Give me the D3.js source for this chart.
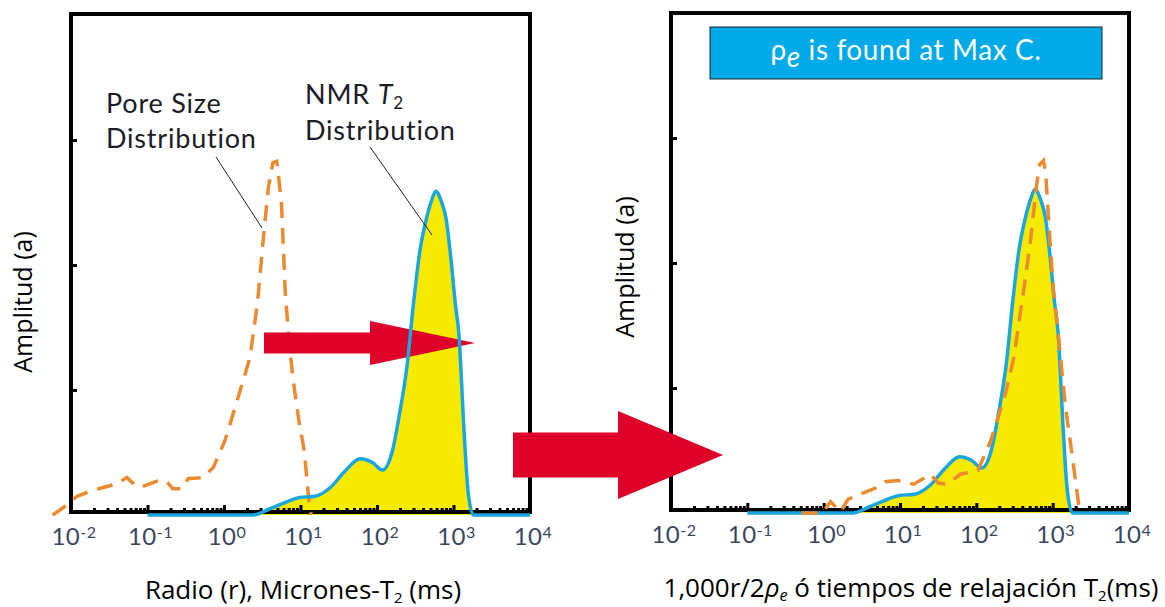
<!DOCTYPE html>
<html>
<head>
<meta charset="utf-8">
<script src="https://cdn.jsdelivr.net/npm/d3@7"></script>
<style>
  body { margin: 0; background: #fff; }
</style>
</head>
<body>
<div id="chart"></div>
<script>
// NMR T2 distribution: log10(T2 ms) and amplitude (same curve in both panels)
var t2Log = [-1, 0.38, 0.6, 0.8, 0.99, 1.19, 1.39, 1.58, 1.78, 1.94, 2.07, 2.2, 2.3, 2.39, 2.48, 2.56, 2.65, 2.71, 2.77, 2.84, 2.9, 2.97, 3.02, 3.07, 3.14, 3.19, 3.26, 4];
var t2Amp = [0, 0, 0.05, 0.1, 0.14, 0.15, 0.22, 0.35, 0.45, 0.42, 0.36, 0.51, 0.83, 1.18, 1.71, 2.11, 2.38, 2.51, 2.59, 2.51, 2.38, 2.03, 1.71, 1.45, 0.65, 0.19, 0, 0];

// pore size distribution, left panel: log10(r microns) and amplitude
var poreLog = [-2.24, -2.1, -1.92, -1.75, -1.58, -1.4, -1.27, -1.2, -1.1, -0.88, -0.75, -0.67, -0.55, -0.47, -0.28, -0.14, 0.01, 0.17, 0.34, 0.44, 0.52, 0.58, 0.64, 0.69, 0.75, 0.8, 0.85, 0.9, 0.98, 1.05, 1.11, 1.14];
var poreAmp = [0, 0.06, 0.15, 0.19, 0.22, 0.25, 0.3, 0.26, 0.22, 0.27, 0.27, 0.21, 0.21, 0.29, 0.3, 0.38, 0.59, 0.91, 1.26, 1.71, 2.25, 2.62, 2.82, 2.83, 2.51, 1.79, 1.39, 1.1, 0.75, 0.51, 0.11, 0];

// pore size distribution scaled by 1000/2rho_e, right panel
var scaledLog = [-0.29, -0.02, 0.09, 0.22, 0.32, 0.48, 0.68, 0.8, 0.97, 1.18, 1.4, 1.5, 1.62, 1.79, 2.02, 2.19, 2.38, 2.49, 2.62, 2.71, 2.78, 2.83, 2.88, 2.91, 2.95, 3.01, 3.08, 3.17, 3.26, 3.34, 3.37];
var scaledAmp = [0, 0, 0.09, 0.01, 0.11, 0.15, 0.2, 0.25, 0.26, 0.23, 0.31, 0.24, 0.23, 0.31, 0.34, 0.58, 0.95, 1.24, 1.78, 2.18, 2.58, 2.79, 2.82, 2.71, 2.31, 1.78, 1.38, 0.84, 0.44, 0.07, 0];

var decades = [-2, -1, 0, 1, 2, 3, 4];
var yTicks = [1, 2, 3];

var svgWidth = 1165;
var svgHeight = 607;

var svg = d3.select("#chart")
  .append("svg")
  .attr("width", svgWidth)
  .attr("height", svgHeight);

var red = "#df0029";
var labelFont = "Lato, 'Open Sans', sans-serif";
var titleFont = "'Open Sans', 'Liberation Sans', sans-serif";

// minor tick values 2..9 x 10^d
var minorTicks = [];
decades.slice(0, -1).forEach(function(d) {
  for (var k = 2; k <= 9; k++) minorTicks.push(k * Math.pow(10, d));
});

function arrowPath(x0, xh, x1, yc, shaft, head) {
  return "M" + x0 + "," + (yc - shaft / 2) +
    "L" + xh + "," + (yc - shaft / 2) +
    "L" + xh + "," + (yc - head / 2) +
    "L" + x1 + "," + yc +
    "L" + xh + "," + (yc + head / 2) +
    "L" + xh + "," + (yc + shaft / 2) +
    "L" + x0 + "," + (yc + shaft / 2) + "Z";
}

function drawPanel(p) {
  var x = d3.scaleLog().domain([1e-2, 1e4]).range([p.left, p.right]);
  var y = d3.scaleLinear().domain([0, 4]).range([p.zero, p.zero - 500]);
  var g = svg.append("g");

  var t2 = d3.zip(t2Log, t2Amp);
  var pore = d3.zip(p.poreLog, p.poreAmp);

  var area = d3.area()
    .x(d => x(Math.pow(10, d[0])))
    .y0(y(0))
    .y1(d => y(d[1]))
    .curve(d3.curveMonotoneX);

  var smooth = d3.line()
    .x(d => x(Math.pow(10, d[0])))
    .y(d => y(d[1]))
    .curve(d3.curveMonotoneX);

  var rough = d3.line()
    .x(d => x(Math.pow(10, d[0])))
    .y(d => y(d[1]));

  g.append("path").datum(t2)
    .attr("d", area)
    .attr("fill", "#f6ea00");

  // bottom axis: minor and major ticks pointing inward
  var minorAxis = d3.axisBottom(x).tickValues(minorTicks).tickSize(-4).tickFormat("");
  var majorAxis = d3.axisBottom(x).tickValues(decades.map(d => Math.pow(10, d))).tickSize(-7).tickFormat("");
  [minorAxis, majorAxis].forEach(function(ax) {
    var a = g.append("g")
      .attr("transform", `translate(0, ${p.bottom})`)
      .call(ax);
    a.select(".domain").remove();
    a.selectAll("line").attr("stroke", "#000").attr("stroke-width", 3);
  });

  var leftAxis = g.append("g")
    .attr("transform", `translate(${p.left}, 0)`)
    .call(d3.axisLeft(y).tickValues(yTicks).tickSize(-6).tickFormat(""));
  leftAxis.select(".domain").remove();
  leftAxis.selectAll("line").attr("stroke", "#000").attr("stroke-width", 3);

  // frame
  g.append("rect")
    .attr("x", p.left)
    .attr("y", p.top)
    .attr("width", p.right - p.left)
    .attr("height", p.bottom - p.top)
    .attr("fill", "none")
    .attr("stroke", "#000")
    .attr("stroke-width", 4);

  var lines = {
    pore: function() {
      g.append("path").datum(pore)
        .attr("class", "pore-line")
        .attr("d", rough)
        .attr("fill", "none")
        .attr("stroke", "#ec8a30")
        .attr("stroke-width", 3.5)
        .attr("stroke-dasharray", "16,10");
    },
    t2: function() {
      g.append("path").datum(t2)
        .attr("class", "t2-line")
        .attr("d", smooth)
        .attr("fill", "none")
        .attr("stroke", "#1aa6e0")
        .attr("stroke-width", 3.5);
    }
  };
  p.order.forEach(k => lines[k]());

  // decade labels 10^n
  g.selectAll(".dec-label")
    .data(decades)
    .enter()
    .append("text")
    .attr("class", "dec-label")
    .attr("x", d => x(Math.pow(10, d)) + 3)
    .attr("y", p.labelY)
    .attr("text-anchor", "middle")
    .style("font-family", labelFont)
    .style("font-size", "24px")
    .style("letter-spacing", "0.5px")
    .attr("fill", "#3a4660")
    .each(function(d) {
      var t = d3.select(this);
      t.append("tspan").text("10");
      t.append("tspan").attr("dy", -7).style("font-size", "16px").text(d);
    });

  // y title
  g.append("text")
    .attr("transform", `translate(${p.yTitleX}, ${p.yTitleY}) rotate(-90)`)
    .attr("text-anchor", "middle")
    .attr("dy", "0.35em")
    .style("font-family", titleFont)
    .style("font-size", "25px")
    .attr("fill", "#000")
    .text("Amplitud (a)");

  return g;
}

var left = drawPanel({
  left: 71, right: 530, top: 14, bottom: 512, zero: 515,
  poreLog: poreLog, poreAmp: poreAmp,
  order: ["pore", "t2"],
  labelY: 545, yTitleX: 23, yTitleY: 302
});

var right = drawPanel({
  left: 671, right: 1129, top: 13, bottom: 510, zero: 513,
  poreLog: scaledLog, poreAmp: scaledAmp,
  order: ["t2", "pore"],
  labelY: 543, yTitleX: 625, yTitleY: 267
});

// red arrow inside left panel, under the T2 line
left.insert("path", ".t2-line")
  .attr("d", arrowPath(264, 370, 475, 343, 21, 44))
  .attr("fill", red);

// big arrow between panels
svg.append("path")
  .attr("d", arrowPath(513, 618, 723, 455, 45, 88))
  .attr("fill", red);

// annotations
function annot(x, y, parts) {
  var t = left.append("text")
    .attr("x", x)
    .attr("y", y)
    .style("font-family", labelFont)
    .style("font-size", "27px")
    .style("letter-spacing", "0.8px")
    .attr("fill", "#1c1c28");
  parts.forEach(function(pt) {
    var s = t.append("tspan").text(pt.text);
    if (pt.italic) s.style("font-style", "italic");
    if (pt.dy) s.attr("dy", pt.dy);
    if (pt.size) s.style("font-size", pt.size);
  });
}
annot(106, 113, [{text: "Pore Size"}]);
annot(106, 148, [{text: "Distribution"}]);
annot(305, 104, [{text: "NMR "}, {text: "T", italic: true}, {text: "2", dy: 5, size: "17px"}]);
annot(305, 140, [{text: "Distribution"}]);

left.append("line")
  .attr("x1", 216).attr("y1", 157).attr("x2", 262).attr("y2", 228)
  .attr("stroke", "#222").attr("stroke-width", 1);
left.append("line")
  .attr("x1", 370).attr("y1", 147).attr("x2", 432).attr("y2", 235)
  .attr("stroke", "#222").attr("stroke-width", 1);

// blue note box
right.append("rect")
  .attr("x", 710).attr("y", 27)
  .attr("width", 392).attr("height", 52)
  .attr("fill", "#00a9e7")
  .attr("stroke", "#222")
  .attr("stroke-width", 1);

var note = right.append("text")
  .attr("x", 906).attr("y", 60)
  .attr("text-anchor", "middle")
  .style("font-family", labelFont)
  .style("font-size", "28px")
  .style("letter-spacing", "0.6px")
  .attr("fill", "#fff");
note.append("tspan").text("\u03c1");
note.append("tspan").attr("dy", 7).style("font-style", "italic").text("e");
note.append("tspan").attr("dy", -7).text(" is found at Max C.");

// x titles
var xt1 = svg.append("text")
  .attr("x", 303).attr("y", 599)
  .attr("text-anchor", "middle")
  .style("font-family", titleFont)
  .style("font-size", "26px")
  .attr("fill", "#000");
xt1.append("tspan").text("Radio (r), Micrones-T");
xt1.append("tspan").attr("dy", 4).style("font-size", "15px").text("2");
xt1.append("tspan").attr("dy", -4).text(" (ms)");

var xt2 = svg.append("text")
  .attr("x", 911).attr("y", 597)
  .attr("text-anchor", "middle")
  .style("font-family", titleFont)
  .style("font-size", "26px")
  .attr("fill", "#000");
xt2.append("tspan").text("1,000r/2");
xt2.append("tspan").style("font-style", "italic").text("\u03c1");
xt2.append("tspan").attr("dy", 4).style("font-style", "italic").style("font-size", "16px").text("e");
xt2.append("tspan").attr("dy", -4).text(" \u00f3 tiempos de relajaci\u00f3n T");
xt2.append("tspan").attr("dy", 4).style("font-size", "15px").text("2");
xt2.append("tspan").attr("dy", -4).text("(ms)");
</script>
</body>
</html>
